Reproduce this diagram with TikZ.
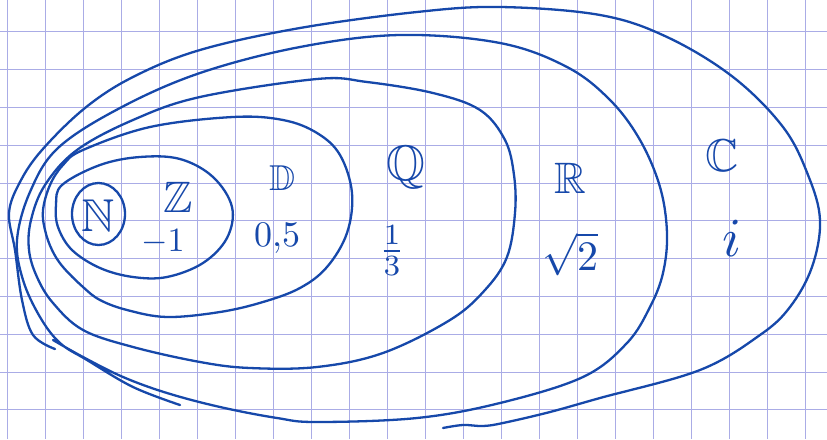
\documentclass[tikz,border=0pt]{standalone}
\usepackage{amssymb}
\definecolor{pen}{RGB}{22,72,170}
\definecolor{gridc}{RGB}{170,172,230}
\tikzset{
  ink/.style={draw=pen, line width=2.3pt, line cap=round, line join=round},
  lab/.style={text=pen, inner sep=0pt},
}
\begin{document}
\begin{tikzpicture}[x=1pt,y=-1pt]
\useasboundingbox (0,0) rectangle (827,439);
\fill[white] (0,0) rectangle (827,439);
% squared paper
\foreach \i in {0,...,21} {\draw[gridc, line width=0.9pt] ({7+38*\i},0) -- ({7+38*\i},439);}
\foreach \j in {0,...,11} {\draw[gridc, line width=0.9pt] (0,{-6+37.8*\j}) -- (827,{-6+37.8*\j});}
% C (open stroke)
\draw[ink] plot[smooth, tension=0.6] coordinates {
 (55,349) (33,335) (22,300) (15,250) (9,213) (20,182) (42,150) (85,108) (133,77)
 (200,50) (300,28) (417,12) (500,7) (600,15) (667,37) (733,77) (783,127) (808,175)
 (820,220) (812,267) (790,307) (760,335) (700,370) (600,398) (550,412) (503,423)
 (483,426) (463,425) (443,428)};
% R (open stroke)
\draw[ink] plot[smooth, tension=0.6] coordinates {
 (53,340) (83,357) (123,377) (167,393) (220,407) (277,418) (317,422) (417,418)
 (500,403) (583,377) (627,343) (650,307) (663,273) (667,233) (660,187) (640,140)
 (610,100) (567,67) (500,43) (400,35) (300,47) (200,73) (120,108) (58,148)
 (30,192) (17,240) (23,280) (40,317) (60,343) (87,360) (133,387) (180,405)};
% Q
\draw[ink] plot[smooth cycle, tension=0.6] coordinates {
 (77,150) (133,120) (200,97) (317,79) (367,82) (433,93) (480,110) (505,140)
 (514,175) (515,213) (507,257) (485,290) (450,320) (383,353) (317,367) (250,368)
 (200,362) (133,347) (83,330) (53,303) (37,277) (29,250) (31,220) (45,185)};
% D
\draw[ink] plot[smooth cycle, tension=0.6] coordinates {
 (83,150) (150,127) (233,117) (283,120) (317,133) (340,155) (352,193) (347,233)
 (327,267) (300,288) (263,302) (220,312) (167,317) (127,310) (100,300) (83,287)
 (63,267) (52,250) (45,230) (43,210) (50,185) (63,165)};
% Z
\draw[ink] plot[smooth cycle, tension=0.6] coordinates {
 (62,185) (100,165) (140,157) (180,159) (213,177) (232,207) (227,238)
 (203,263) (167,277) (133,277) (100,268) (72,250) (58,227) (56,205)};
% N
\draw[ink] (98.5,214) ellipse [x radius=26.5, y radius=31];
% labels
\node[lab, scale=4.6] (tN) at (98,216) {$\mathbb{N}$};
\node[lab, scale=4.4] (tZ) at (178,197) {$\mathbb{Z}$};
\node[lab, scale=3.4] (tm1) at (163,242) {$-1$};
\node[lab, scale=3.6] (tD) at (282,178) {$\mathbb{D}$};
\node[lab, scale=3.6] (t05) at (277,238) {$0{,}5$};
\node[lab, scale=5] (tQ) at (406,167) {$\mathbb{Q}$};
\node[lab, scale=4.2] (t13) at (392,251) {$\frac{1}{3}$};
\node[lab, scale=4.4] (tR) at (570,178) {$\mathbb{R}$};
\node[lab, scale=4.2] (ts2) at (570,254) {$\sqrt{2}$};
\node[lab, scale=4.6] (tC) at (722,156) {$\mathbb{C}$};
\node[lab, scale=5.5] (ti) at (732,238) {$i$};
\end{tikzpicture}
\end{document}
